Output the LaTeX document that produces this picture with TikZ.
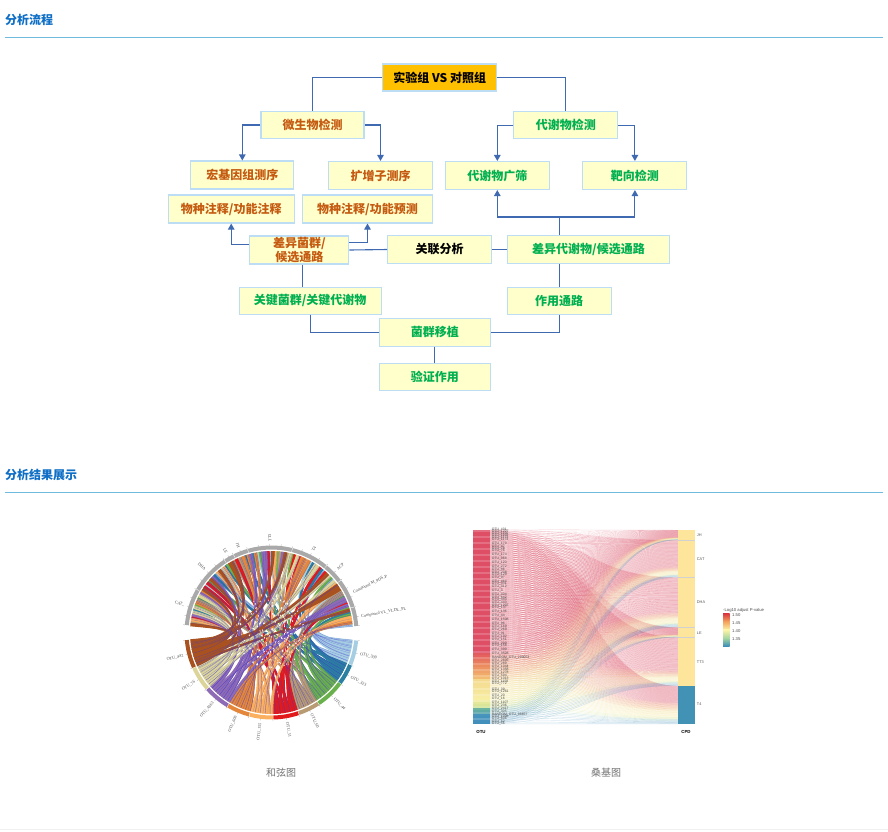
\documentclass[tikz,border=0pt]{standalone}
\usepackage{fontspec}
\setmainfont{Noto Sans CJK SC}
\newfontfamily\srf{Liberation Serif}
\newfontfamily\lsans{Liberation Sans}
\usetikzlibrary{arrows.meta,calc}
\definecolor{hdblue}{HTML}{0F6FC6}
\definecolor{hdline}{HTML}{6FBBDD}
\definecolor{boxfill}{HTML}{FFFFCC}
\definecolor{boxline}{HTML}{BDDDF5}
\definecolor{orangetx}{HTML}{C55A11}
\definecolor{greentx}{HTML}{00B050}
\definecolor{conn}{HTML}{3F69B0}
\definecolor{goldbox}{HTML}{FFC000}
\definecolor{ringgray}{HTML}{A9A9A9}
\definecolor{cLB}{HTML}{A6CEE3}
\definecolor{cTE}{HTML}{2B7FA0}
\definecolor{cGR}{HTML}{6AB04C}
\definecolor{cTN}{HTML}{B89B72}
\definecolor{cRD}{HTML}{E31A1C}
\definecolor{cLO}{HTML}{FBB060}
\definecolor{cOR}{HTML}{E5873A}
\definecolor{cPU}{HTML}{8E6BB5}
\definecolor{cKH}{HTML}{DCD59A}
\definecolor{cBR}{HTML}{A9521F}
\definecolor{strand}{HTML}{3F36D0}
\definecolor{s1}{HTML}{DE4F66}
\definecolor{s2}{HTML}{E25A5E}
\definecolor{s3}{HTML}{EB8A5E}
\definecolor{s4}{HTML}{F3BE72}
\definecolor{s5}{HTML}{F3D98E}
\definecolor{s6}{HTML}{F7EEA3}
\definecolor{s7}{HTML}{C9DF90}
\definecolor{s8}{HTML}{6DB59F}
\definecolor{s9}{HTML}{4D9DAA}
\definecolor{s10}{HTML}{4795BC}
\definecolor{s11}{HTML}{3F8DBB}
\definecolor{blkY}{HTML}{FDE69B}
\definecolor{blkB}{HTML}{4292B5}
\definecolor{lgR}{HTML}{D9383F}
\definecolor{lgO}{HTML}{F4A45E}
\definecolor{lgY}{HTML}{FBF3A8}
\definecolor{lgG}{HTML}{A5D6A0}
\definecolor{lgB}{HTML}{3A8CB8}
\newcommand\sgm[4]{\ifdim\tv pt<#1pt\else\ifdim\tv pt<#2pt \pgfmathsetmacro\pv{(\tv-#1)/(#2-#1)*100}\colorlet{cur}{#4!\pv!#3}\fi\fi}
% one chord ribbon: bottom angles #1,#2 ; top angles #3,#4 ; colour #5
\newcommand\ribbon[5]{%
  \filldraw[fill=#5,draw=#5,line width=1pt]
    (#1:81) .. controls (#1:30) and (#3:30) .. (#3:81)
    -- (#4:81) .. controls (#4:30) and (#2:30) .. (#2:81) -- cycle;
  \draw[draw=strand,line width=.22pt,draw opacity=.45]
    (#1:81) .. controls (#1:30) and (#3:30) .. (#3:81);
}
\tikzset{
  flowbox/.style={draw=boxline,line width=1.1pt,fill=boxfill,inner sep=0pt,align=center,font=\fontsize{12}{14.5}\selectfont\bfseries},
  orangebox/.style={flowbox,text=orangetx},
  greenbox/.style={flowbox,text=greentx},
  blackbox/.style={flowbox,text=black},
  link/.style={draw=conn,line width=1.1pt},
  arrowlink/.style={link,-{Triangle[length=6pt,width=6.5pt]}},
  heading/.style={font=\fontsize{12}{14}\selectfont\bfseries,text=hdblue,anchor=west,inner sep=0pt},
  rulehd/.style={draw=hdline,line width=.8pt},
  capt/.style={font=\fontsize{10}{12}\selectfont,text=black!55,inner sep=0pt},
  ringlabel/.style={font=\srf\fontsize{4.2}{5}\selectfont,text=black!70,inner sep=0pt},
  otulabel/.style={font=\lsans\fontsize{3.4}{3.7}\selectfont,text=black!70,inner sep=0pt,anchor=west},
  cpdlabel/.style={font=\lsans\fontsize{3.9}{4.2}\selectfont,text=black!65,inner sep=0pt,anchor=west},
  lglabel/.style={font=\lsans\fontsize{4.2}{4.6}\selectfont,text=black!70,inner sep=0pt,anchor=west},
  axlabel/.style={font=\lsans\fontsize{4.4}{5}\selectfont\bfseries,text=black,inner sep=0pt},
}
\begin{document}
\begin{tikzpicture}[x=1pt,y=-1pt]
\useasboundingbox (0,0) rectangle (888,831);
\fill[white] (0,0) rectangle (888,831);
% headings
\node[heading] (h1) at (5,20) {分析流程};
\node[heading] (h2) at (5,474.5) {分析结果展示};
\draw[rulehd] (5,37.5) -- (883,37.5);
\draw[rulehd] (5,492.5) -- (883,492.5);
\draw[draw=black!6,line width=.6pt] (0,829.5) -- (888,829.5);
% flow boxes
\node[blackbox,fill=goldbox,minimum width=114pt,minimum height=27pt] (expt) at (439.7,77.5) {实验组 VS 对照组};
\node[orangebox,minimum width=103pt,minimum height=27pt] (micro) at (312.5,125) {微生物检测};
\node[greenbox,minimum width=104pt,minimum height=27pt] (metab) at (565.9,125.3) {代谢物检测};
\node[orangebox,minimum width=103pt,minimum height=28pt] (meta) at (242.3,175) {宏基因组测序};
\node[orangebox,minimum width=104pt,minimum height=28pt] (ampl) at (380.5,175.5) {扩增子测序};
\node[greenbox,minimum width=104pt,minimum height=28pt] (untar) at (497.3,175.5) {代谢物广筛};
\node[greenbox,minimum width=104pt,minimum height=28pt] (tar) at (634.9,175.5) {靶向检测};
\node[orangebox,minimum width=126pt,minimum height=28pt] (anno) at (231.2,209) {物种注释/功能注释};
\node[orangebox,minimum width=130pt,minimum height=28pt] (pred) at (367.5,209) {物种注释/功能预测};
\node[orangebox,minimum width=99pt,minimum height=28pt] (dbac) at (299.4,250) {差异菌群/\\候选通路};
\node[blackbox,minimum width=104pt,minimum height=28pt] (corr) at (439.7,249.5) {关联分析};
\node[greenbox,minimum width=162pt,minimum height=28pt] (dmet) at (588.5,249.5) {差异代谢物/候选通路};
\node[greenbox,minimum width=142pt,minimum height=27pt] (key) at (310.1,300.6) {关键菌群/关键代谢物};
\node[greenbox,minimum width=104pt,minimum height=27pt] (pathw) at (559.2,300.8) {作用通路};
\node[greenbox,minimum width=111pt,minimum height=28pt] (trans) at (434.8,332.3) {菌群移植};
\node[greenbox,minimum width=111pt,minimum height=27pt] (valid) at (434.8,377) {验证作用};
% connectors
\draw[link] (expt.west) -| (micro.north);
\draw[link] (expt.east) -| (metab.north);
\draw[arrowlink] (micro.west) -| (meta.north);
\draw[arrowlink] (micro.east) -| (ampl.north);
\draw[arrowlink] (metab.west) -| (untar.north);
\draw[arrowlink] (metab.east) -| (tar.north);
\coordinate (jn) at (559.3,217);
\draw[link] (dmet.north -| jn) -- (jn);
\draw[arrowlink] (jn) -| (untar.south);
\draw[arrowlink] (jn) -| (tar.south);
\draw[arrowlink] ([yshift=5.7pt]dbac.west) -| (anno.south);
\draw[arrowlink] ([yshift=7.3pt]dbac.east) -| (pred.south);
\draw[link] (dbac.east) -- (corr.west);
\draw[link] (corr.east) -- (dmet.west);
\draw[link] ([xshift=3pt]dbac.south) -- ([xshift=3pt]dbac.south |- key.north);
\draw[link] (pathw.north) -- (pathw.north |- dmet.south);
\draw[link] (key.south) |- (trans.west);
\draw[link] (pathw.south) |- (trans.east);
\draw[link] (trans.south) -- (valid.north);

% ---------- chord diagram
\begin{scope}[shift={(271.5,632.5)},y=1pt]
\newcount\chordc \chordc=0
\foreach \aa/\ab/\nn/\col in {
  -5.4/-22/9/cLB,-22.4/-36.3/8/cTE,-36.7/-56.3/11/cGR,-56.7/-71.2/9/cTN,-71.6/-88.7/10/cRD,
  -89.1/-104.8/9/cLO,-105.2/-120.6/9/cOR,-121/-138.6/10/cPU,-139/-155.5/10/cKH,-155.9/-174.9/11/cBR}{
  \pgfmathsetmacro\stp{(\aa-\ab)/\nn}
  \foreach \j in {1,...,\nn}{
    \global\advance\chordc by 1
    \pgfmathtruncatemacro\cc{\the\chordc}
    \pgfmathtruncatemacro\xa{mod(\cc*\cc,97)}
    \pgfmathtruncatemacro\xb{mod(\xa*\xa,97)}
    \pgfmathtruncatemacro\slot{mod(\xb*\cc,97)-1}
    \pgfmathsetmacro\pa{\aa-(\j-1)*\stp}
    \pgfmathsetmacro\pb{\aa-\j*\stp}
    \pgfmathsetmacro\qa{4.4+\slot*1.78}
    \pgfmathsetmacro\qb{4.4+(\slot+1)*1.78}
    \ribbon{\pa}{\pb}{\qa}{\qb}{\col}
  }
}
\ribbon{-160}{-168}{36}{31.5}{cBR}
% second pass: strands across the middle
\foreach \c in {1,3,...,95}{
  \pgfmathtruncatemacro\xa{mod(\c*\c,97)}
  \pgfmathtruncatemacro\xb{mod(\xa*\xa,97)}
  \pgfmathtruncatemacro\slot{mod(\xb*\c,97)-1}
  \pgfmathsetmacro\pa{-5.4-(\c-.5)*1.766}
  \pgfmathsetmacro\qa{5.3+\slot*1.78}
  \draw[draw=strand,line width=.28pt,draw opacity=.6]
    (\pa:81) .. controls (\pa:30) and (\qa:30) .. (\qa:81);
}
\begin{scope}
\clip (0,0) circle (36);
\foreach \c in {2,6,...,94}{
  \pgfmathtruncatemacro\xa{mod(\c*\c,97)}
  \pgfmathtruncatemacro\xb{mod(\xa*\xa,97)}
  \pgfmathtruncatemacro\slot{mod(\xb*\c,97)-1}
  \pgfmathsetmacro\pa{-5.4-(\c-.5)*1.766}
  \pgfmathsetmacro\qa{5.3+\slot*1.78}
  \draw[draw=white,line width=.7pt,dash pattern=on 1.6pt off 6pt]
    (\pa:81) .. controls (\pa:30) and (\qa:30) .. (\qa:81);
}
\end{scope}
% rings
\foreach \aa/\ab/\col in {-5.4/-22/cLB,-22.4/-36.3/cTE,-36.7/-56.3/cGR,-56.7/-71.2/cTN,-71.6/-88.7/cRD,-89.1/-104.8/cLO,-105.2/-120.6/cOR,-121/-138.6/cPU,-139/-155.5/cKH,-155.9/-174.9/cBR,
  17/4.4/ringgray,36.8/17.4/ringgray,50.3/37.2/ringgray,75.8/50.7/ringgray,105.8/76.2/ringgray,115.8/106.2/ringgray,122.8/116.2/ringgray,149.8/123.2/ringgray,175/150.2/ringgray}{
  \draw[draw=\col,line width=4pt] (\aa:85) arc (\aa:\ab:85);
}
\foreach \t in {4.4,10.5,17.4,24,30.5,37.2,43.8,50.7,57,63.3,69.6,76.2,83.7,91.2,98.7,106.2,111,116.2,119.5,123.2,129.9,136.6,143.3,150.2,156.4,162.6,168.8,175,
  -5.4,-13.7,-22.4,-29.3,-36.7,-46.5,-56.7,-64,-71.6,-80.1,-89.1,-97,-105.2,-112.9,-121,-129.8,-139,-147.2,-155.9,-165.4,-174.9}{
  \draw[draw=black!40,line width=.25pt] (\t:87) -- (\t:88.6);
}
% ring labels
\foreach \ang/\txt [count=\n] in {
  10/{Compound VL\_VLDL\_PL},26/{Compound M\_9DS\_P},43.7/ACP,63/T4,
  -13.7/OTU\_309,-29.3/OTU\_323,-46.5/OTU\_44,-64/OTU\_60,-80.1/OTU\_51}{
  \node[ringlabel,anchor=west,rotate=\ang] (rr\n) at (\ang:91) {\txt};
}
\node[ringlabel,anchor=west,rotate=91] (rtt) at (91:91) {TT3};
\foreach \ang/\txt [count=\n] in {
  111/JH,119.5/LE,136.6/DHA,162.6/CAT\_,
  -97/OTU\_155,-112.9/OTU\_606,-129.8/OTU\_4363,-147.2/OTU\_76,-165.4/OTU\_442}{
  \pgfmathsetmacro\rr{\ang+180}
  \node[ringlabel,anchor=east,rotate=\rr] (rl\n) at (\ang:91) {\txt};
}
\end{scope}
\node[capt] (c1) at (281,773) {和弦图};

% ---------- sankey
\foreach \i in {0,...,95}{
  \pgfmathsetmacro\tv{(\i+.5)/96*100}
  \colorlet{cur}{s1}
  \sgm{0}{64}{s1}{s1}\sgm{64}{70}{s2}{s3}\sgm{70}{77}{s3}{s4}\sgm{77}{87}{s5}{s6}\sgm{87}{92}{s6}{s7}\sgm{92}{95}{s8}{s9}\sgm{95}{101}{s10}{s11}
  \pgfmathtruncatemacro\md{mod(\i,3)}
  \ifnum\md=0 \colorlet{cur}{cur!82!white}\fi
  \pgfmathsetmacro\ry{529.5+\i*2.026}
  \fill[cur] (473,\ry) rectangle (490,\ry+2.03);
  \colorlet{flow}{cur}
  \pgfmathsetmacro\fop{\i>=88 ? .24 : .37}
  \foreach \tp/\hh/\cum/\rf in {530/10/0/.74,540/37.3/10/.74,577.3/50/47.3/.72,627.3/10/97.3/.74,637.3/48.5/107.3/.71,685.8/38.2/155.8/.46}{
    \pgfmathsetmacro\ga{(\i/96<.655)*(\i/96*\rf/.655)+(\i/96>=.655)*(\rf+(\i/96-.655)*(1-\rf)/.345)}
    \pgfmathsetmacro\gb{((\i+1)/96<.655)*((\i+1)/96*\rf/.655)+((\i+1)/96>=.655)*(\rf+((\i+1)/96-.655)*(1-\rf)/.345)}
    \pgfmathsetmacro\yla{\ry+2.026*\cum/194}
    \pgfmathsetmacro\ylb{\yla+2.026*\hh/194}
    \pgfmathsetmacro\yra{\tp+\hh*\ga}
    \pgfmathsetmacro\yrb{\tp+\hh*\gb}
    \fill[flow,fill opacity=\fop]
      (490,\yla) .. controls (584,\yla) and (584,\yra) .. (678,\yra)
      -- (678,\yrb) .. controls (584,\yrb) and (584,\ylb) .. (490,\ylb) -- cycle;
  }
}
% right column
\fill[blkY] (678,530) rectangle (695,685.8);
\fill[blkB] (678,685.8) rectangle (695,724);
\foreach \yy in {540,577.3,627.3,637.3}{\draw[draw=black!18,line width=.3pt] (678,\yy) -- (695,\yy);}
\foreach \yy/\txt [count=\n] in {535/JH,559/CAT,602/DHA,632.7/LE,661.7/TT3,704/T4}{
  \node[cpdlabel] (cp\n) at (696.7,\yy) {\txt};
}
\foreach \zy/\lab [count=\n] in {30/431,36/1227,42/1156,48/1158,54/1174,60/1174,72/179,80/47,86/78,92/76,104/174,115/968,127/120,139/272,150/86,158/238,165/129,172/97,184/464,192/331,200/312,213/3,225/404,233/642,240/443,247/443,256/1207,264/137,276/136,288/44,298/1508,310/96,320/169,328/269,340/91,350/192,358/151,370/209,378/158,390/399,400/3528,422/2605,432/289,441/1044,450/1358,458/1278,466/594,476/1013,486/1158,492/772,510/39,515/1261,526/20,537/16,548/1107,556/236,566/2417,575/305,590/1006,596/606,604/52,610/56}{
  \pgfmathsetmacro\yy{520+\zy/3}
  \node[otulabel] (ou\n) at (491.7,\yy) {OTU\_\lab};
}
\node[otulabel] (ora) at (491.7,657.3) {RANDOM\_OTU\_299053};
\node[otulabel] (orb) at (491.7,714.5) {RANDOM\_OTU\_98657};
\node[axlabel] (otu) at (481,731.5) {OTU};
\node[axlabel] (cpd) at (686,731.5) {CPD};
% legend
\node[lglabel] (lgt) at (723,610) {-Log10 adjust P-value};
\shade[top color=lgR,bottom color=lgO] (723,613.5) rectangle (729.5,621.7);
\shade[top color=lgO,bottom color=lgY] (723,621.7) rectangle (729.5,629.9);
\shade[top color=lgY,bottom color=lgG] (723,629.9) rectangle (729.5,638.1);
\shade[top color=lgG,bottom color=lgB] (723,638.1) rectangle (729.5,646.3);
\foreach \yy/\txt [count=\n] in {615/1.50,623/1.45,631/1.40,639/1.35}{
  \node[lglabel] (lg\n) at (732,\yy) {\txt};
}
\node[capt] (c2) at (606,773) {桑基图};
\end{tikzpicture}
\end{document}
